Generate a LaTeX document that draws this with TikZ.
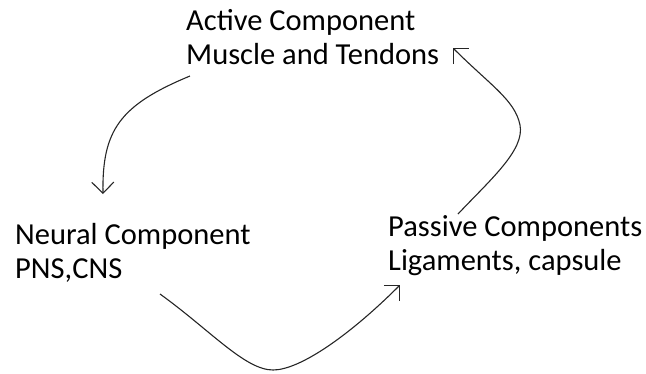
\documentclass[tikz,border=0pt]{standalone}
\usepackage{fontspec}
\setmainfont{Carlito}
\usepackage{tikz}
\usetikzlibrary{positioning,arrows.meta,calc}

\begin{document}
\begin{tikzpicture}[x=1pt,y=-1pt,
    comp/.style={inner sep=0pt,anchor=base west,align=left,
        font=\fontsize{30.5}{33.5}\selectfont},
    flow/.style={line width=1.1pt,black!85,
        -{Straight Barb[length=11pt,width=22pt,line width=1.1pt]}}]

    \useasboundingbox (0,0) rectangle (646,373);

    \node[comp] (active) at (186,64) {Active Component\\Muscle and Tendons};
    \node[comp] (neural) at (15,278) {Neural Component\\PNS,CNS};
    \node[comp] (passive) at (388,270) {Passive Components\\Ligaments, capsule};

    % active -> neural
    \draw[flow] ($(active.base west)+(4,12)$)
        .. controls ($(active.base west)+(-66,41)$) and ($(neural.base west)+(87,-148)$)
        .. ($(neural.base west)+(88,-84)$);

    % neural -> passive
    \draw[flow] ($(neural.base west)+(145,16)$)
        .. controls (210,330) and (245,370) .. (273,370)
        .. controls (300,370) and (350,335) .. ($(passive.base west)+(12,15)$);

    % passive -> active
    \draw[flow] ($(passive.base west)+(70,-56)$)
        .. controls (490,180) and (525,150) .. (520,125)
        .. controls (515,100) and (490,85) .. ($(active.base west)+(267,-16)$);

\end{tikzpicture}
\end{document}
